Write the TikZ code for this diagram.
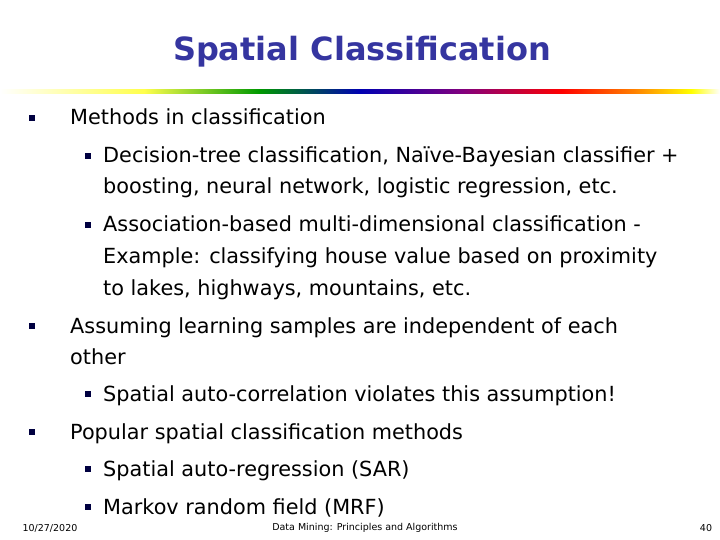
\documentclass[tikz,border=0pt]{standalone}
\usepackage{fontspec}
\setmainfont{DejaVu Sans}
\pgfdeclarehorizontalshading{rainbow}{100bp}{color(0bp)=(white);color(25bp)=(white);color(35bp)=(yellow!70!white);color(43bp)=(green!60!black);color(50bp)=(blue!70!black);color(57bp)=(violet);color(64bp)=(red);color(69bp)=(orange);color(73bp)=(yellow);color(75bp)=(white);color(100bp)=(white)}
\definecolor{titleblue}{HTML}{3535A0}
\begin{document}
\begin{tikzpicture}[x=1pt,y=-1pt,
  txt/.style={anchor=base west,inner sep=0pt,font=\fontsize{20.8}{24}\selectfont},
  bul/.style={fill=black!75!blue,minimum size=5.5pt,inner sep=0pt}]
\useasboundingbox (0,0) rectangle (720,540);
\node[font=\bfseries\fontsize{32}{38}\selectfont,text=titleblue] (title) at (362,52) {Spatial Classification};
\shade[shading=rainbow] (0,90) rectangle (720,94);
\foreach \y/\n in {118/a,326/b,432/c} \node[bul] (b\n) at (32,\y) {};
\foreach \y/\n in {156/d,225/e,394/f,469/g,507/h} \node[bul] (b\n) at (88,\y) {};
\node[txt] (t1) at (70,125) {Methods in classification};
\node[txt] (t2) at (103,163) {Decision-tree classification, Naïve-Bayesian classifier +};
\node[txt] (t3) at (103,194) {boosting, neural network, logistic regression, etc.};
\node[txt] (t4) at (103,232) {Association-based multi-dimensional classification -};
\node[txt] (t5) at (103,263) {Example: classifying house value based on proximity};
\node[txt] (t6) at (103,295) {to lakes, highways, mountains, etc.};
\node[txt] (t7) at (70,333) {Assuming learning samples are independent of each};
\node[txt] (t8) at (70,364) {other};
\node[txt] (t9) at (103,401) {Spatial auto-correlation violates this assumption!};
\node[txt] (t10) at (70,439) {Popular spatial classification methods};
\node[txt] (t11) at (103,476) {Spatial auto-regression (SAR)};
\node[txt] (t12) at (103,514) {Markov random field (MRF)};
\node[font=\fontsize{9.5}{12}\selectfont] (f1) at (50,528) {10/27/2020};
\node[font=\fontsize{9.5}{12}\selectfont] (f2) at (365,528) {Data Mining: Principles and Algorithms};
\node[font=\fontsize{9.5}{12}\selectfont] (f3) at (706,528) {40};
\end{tikzpicture}
\end{document}
